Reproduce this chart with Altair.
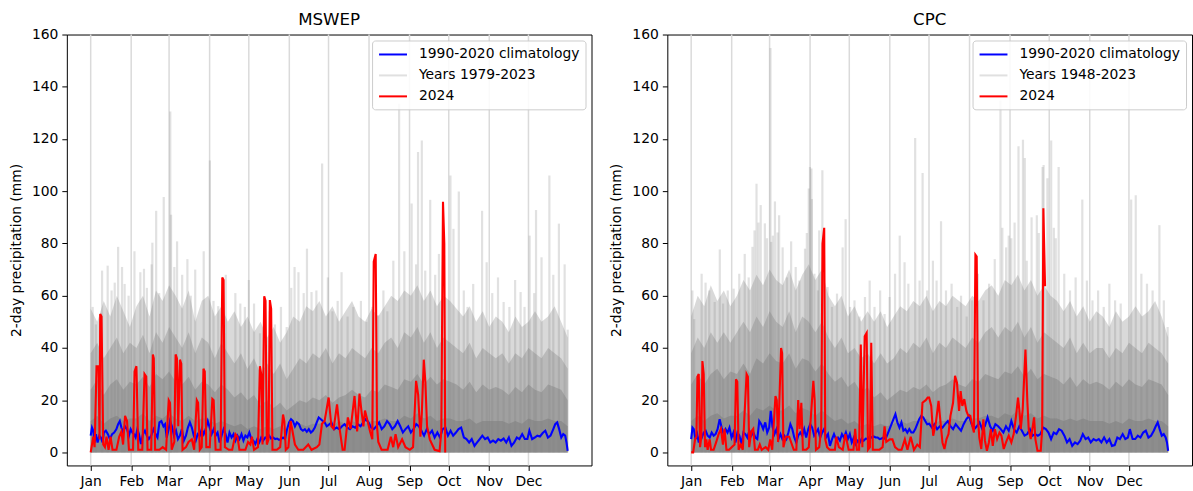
import altair as alt
import pandas as pd

MONTH_DAYS = [0, 31, 60, 91, 121, 152, 182, 213, 244, 274, 305, 335]
MONTH_LABELS = ["Jan", "Feb", "Mar", "Apr", "May", "Jun", "Jul", "Aug", "Sep", "Oct", "Nov", "Dec"]
Y_TICKS = [0, 20, 40, 60, 80, 100, 120, 140, 160]
CLIM_LABEL = "1990-2020 climatology"
ENV_DAYS = list(range(0, 366, 5))

# ---------------- MSWEP ----------------
mswep_upper = [55, 50, 58, 52, 60, 54, 48,
               56, 60, 52, 62, 58, 64, 60,
               55, 62, 50, 58, 60, 52, 56,
               50, 54, 48, 52, 46, 50, 44,
               48, 42, 46, 52, 50, 56, 54,
               58, 52, 56, 50, 54, 58, 52,
               50, 55, 52, 56, 60, 58, 62,
               60, 64, 58, 62, 56, 60, 58,
               55, 52, 56, 50, 54, 48, 52,
               50, 46, 52, 48, 50, 54, 50,
               52, 56, 50, 44]
mswep_mid = [38, 42, 36, 40, 44, 38, 42,
             40, 45, 38, 46, 42, 48, 44,
             40, 46, 38, 44, 42, 36, 42,
             38, 34, 38, 32, 36, 30, 34,
             30, 34, 28, 32, 36, 34, 38,
             36, 40, 34, 38, 36, 40, 38,
             36, 40, 38, 42, 44, 40, 46,
             44, 48, 42, 46, 40, 44, 42,
             40, 38, 42, 36, 40, 38, 36,
             38, 34, 38, 36, 40, 38, 36,
             40, 38, 36, 32]
mswep_core = [24, 28, 22, 26, 28, 24, 27,
              26, 29, 25, 30, 28, 31, 27,
              26, 29, 24, 27, 26, 23, 26,
              24, 21, 23, 20, 22, 18, 20,
              17, 19, 16, 18, 20, 19, 21,
              20, 22, 19, 21, 22, 24, 22,
              21, 24, 23, 26, 25, 24, 28,
              27, 30, 26, 29, 26, 28, 27,
              26, 24, 27, 23, 26, 24, 25,
              24, 22, 25, 23, 26, 24, 23,
              26, 25, 24, 20]
mswep_base = [12, 14, 11, 13, 14, 12, 13,
              13, 15, 12, 14, 13, 15, 13,
              12, 14, 12, 13, 13, 11, 12,
              11, 10, 11, 9, 10, 9, 10,
              9, 10, 9, 10, 11, 10, 11,
              11, 12, 10, 12, 11, 12, 11,
              11, 12, 12, 13, 12, 12, 14,
              13, 15, 13, 14, 12, 13, 13,
              12, 12, 13, 11, 12, 12, 12,
              12, 11, 12, 11, 13, 12, 12,
              13, 12, 12, 10]
mswep_spikes = [(1.5, 55.7), (4, 49), (8.7, 69.6), (13, 71.5), (16, 62), (18.4, 65), (21, 78.7), (24, 71),
                (26, 64.5), (29, 60), (33.5, 77), (38, 69), (40.8, 70.3), (43, 63), (46.6, 72), (47.2, 80.3),
                (50.1, 92.5), (52.4, 61), (55.9, 97.8), (60.9, 130.5), (61.5, 91), (64, 71), (66.1, 80.8),
                (70, 68), (74, 74), (76.6, 60), (80, 70), (86.5, 77), (91.2, 111.8), (94, 58), (97.6, 56),
                (100.5, 59), (103.4, 68), (110.7, 61), (114.5, 57), (118, 55.7), (121, 66), (125, 57),
                (129.6, 45.6), (133, 52), (137, 54), (141, 49), (145.6, 55.7), (150, 48), (153.5, 63),
                (156, 71), (159, 69), (163, 61), (165.5, 78), (169, 61.4), (172.7, 62), (177.1, 110.6),
                (181.5, 67), (185, 54), (189, 58), (192, 69), (196.6, 52), (201, 55.7), (206.8, 58), (211, 50),
                (215.6, 55.7), (220, 52.5), (224, 62), (227, 54), (231.6, 73.4), (236, 133.5), (240, 77),
                (245.6, 95.3), (249, 72), (250.5, 115), (253.4, 119.4), (256, 69.6), (259.8, 96.7),
                (263.6, 68), (266.5, 76), (275.3, 106), (277.6, 85.6), (281.7, 99.9), (285.5, 62),
                (288.4, 55.7), (292.7, 64.5), (299.5, 92.5), (303, 72.8), (307.3, 61), (311.7, 67),
                (316, 57.6), (320.4, 55.7), (324.8, 66), (329, 61.4), (332, 55.7), (335.9, 83), (339.4, 61),
                (340.8, 92.8), (345, 74.7), (351, 106), (354, 68), (358.3, 87.6), (362.7, 72), (365, 47)]
mswep_clim = [(0, 6.4), (1, 9.5), (2, 8.3), (3, 3.8), (4, 7), (5.3, 3.8), (6.6, 6.4), (7.8, 5.7), (9.1, 3.8),
              (10.1, 7.6), (11.6, 8.3), (13.2, 7), (14.7, 5.1), (16.4, 7), (18, 7.6), (19.7, 8.9), (21, 10.8),
              (22.3, 12), (23.5, 9.5), (24.8, 7.6), (26.3, 10), (27.8, 8.9), (29.3, 6.4), (30.6, 8.9),
              (31.9, 7.6), (33.1, 7), (34.4, 5.7), (35.7, 8.9), (36.9, 7), (38.5, 3.2), (40, 7), (41.5, 8.3),
              (43, 6.4), (44.5, 5.1), (46.3, 6.4), (48.1, 8.9), (49.6, 7), (51.1, 5.7), (52.6, 11.5),
              (54.1, 12), (55.7, 10), (56.9, 10.8), (58.2, 5.7), (59.7, 8.9), (60.7, 12), (62.2, 10),
              (63.7, 6.4), (65.3, 8.3), (66.8, 5.1), (68.3, 6.4), (69.8, 8.9), (71.3, 4.5), (72.9, 6.4),
              (74.4, 9.5), (75.9, 11.5), (77.4, 9.5), (78.9, 6.4), (80.4, 4.5), (81.9, 7), (83.5, 6.4),
              (85, 8.9), (86.5, 7), (88, 8.9), (89.6, 12), (91.1, 9.5), (92.6, 7), (94.1, 8.9), (95.6, 6.4),
              (97.1, 7.6), (98.7, 3.8), (100.2, 6.4), (101.7, 8.9), (103.2, 7), (104.7, 3.8), (106.2, 7.6),
              (107.8, 5.7), (109.3, 7), (110.8, 4.5), (112.3, 6.4), (113.8, 5.1), (115.4, 7), (116.9, 4.5),
              (118.4, 6.4), (119.9, 5.7), (121.4, 7.6), (122.9, 5.1), (124.5, 4.5), (126, 3.2), (127.5, 5.1),
              (129, 3.8), (130.5, 5.7), (132, 4.5), (133.6, 5.7), (135.1, 5.1), (136.6, 6.4), (138.1, 5.3),
              (139.6, 5.7), (141.2, 5.1), (142.7, 5.3), (144.2, 4.8), (145.7, 5.1), (147.2, 5.7),
              (148.7, 5.1), (150.3, 8.9), (151.8, 11.5), (153.3, 12.7), (154.8, 12), (156.3, 10),
              (157.8, 11.5), (159.4, 10.8), (160.9, 8.9), (162.4, 8.3), (163.9, 8.9), (165.4, 7.9),
              (166.9, 8.9), (168.5, 7.6), (170, 8.3), (171.5, 9.5), (173, 11.5), (174.5, 13.4), (176.1, 12.7),
              (177.6, 12), (179.1, 11.5), (180.6, 10), (182.1, 10.5), (184.2, 11.5), (186.2, 8.9),
              (188.2, 9.5), (190.3, 8.9), (192.3, 10), (194.3, 10.8), (196.4, 9.5), (198.4, 8.9), (200.4, 10),
              (202.4, 9.5), (204.5, 10.8), (206.5, 10), (208.5, 11.5), (210.5, 12.7), (212.6, 11.5),
              (214.6, 9.5), (216.6, 8.9), (218.6, 10), (220.7, 11.5), (222.7, 8.9), (224.7, 10), (226.8, 12),
              (228.8, 10.8), (230.8, 8.9), (232.8, 10), (234.9, 12), (236.9, 10), (238.9, 7.6), (240.9, 8.9),
              (243, 10), (245, 7.6), (247, 8.9), (249.1, 10.8), (251.1, 10), (253.1, 8.3), (255.1, 6.4),
              (257.2, 8.9), (259.2, 7), (261.2, 8.3), (263.2, 5.7), (265.3, 7.6), (267.3, 5.7), (269.3, 8.9),
              (271.4, 9.5), (273.4, 6.4), (275.4, 8.3), (277.4, 6.4), (279.5, 7.6), (281.5, 8.9), (283.5, 9.5),
              (285.6, 5.7), (287.6, 5.1), (289.6, 3.8), (291.6, 5.1), (293.7, 2.5), (295.7, 3.8), (297.7, 5.1),
              (299.7, 6.4), (301.8, 5.1), (303.8, 5.7), (305.8, 3.8), (307.9, 4.5), (309.9, 3.8), (311.9, 5.1),
              (313.9, 4.5), (316, 5.3), (318, 3.8), (320, 5.7), (322, 2.5), (324.1, 3.8), (326.1, 5.7),
              (328.1, 5.1), (330.2, 7), (332.2, 5.1), (334.2, 5.1), (335.7, 8.3), (337.8, 5.1), (339.8, 5.7),
              (341.8, 6.4), (343.8, 6.1), (345.9, 7.4), (347.9, 8.3), (349.9, 5.7), (351.9, 6.4), (354, 8.9),
              (355.5, 10.8), (357, 11.5), (358.5, 8.9), (360.1, 5.7), (361.6, 7), (363.1, 6.4), (364.1, 3.8),
              (365, 0.6)]
mswep_2024 = [(0, 0), (2, 6), (3, 2), (4.5, 33), (6, 33), (6.8, 5), (7.3, 53), (8.3, 52), (9.6, 3), (10.9, 2),
              (12.1, 6), (13.7, 1), (15.2, 6), (16.7, 1), (19.7, 1), (21.8, 6), (23.5, 8), (24.8, 3), (26.3, 14),
              (27.8, 12), (29.3, 1), (32.4, 1), (33.6, 31), (35, 33), (36.4, 1), (39.5, 1), (41.2, 30),
              (42.5, 29), (43.5, 1), (46.3, 1), (47.6, 37.5), (48.3, 36), (49.3, 1), (52.6, 1), (55.1, 2),
              (57.7, 1), (59.7, 20), (60.7, 19), (62, 1), (64, 4), (65, 37.5), (66, 36), (67, 10), (68.3, 35.5),
              (69.3, 34), (70.3, 1), (72.9, 2), (74.9, 4), (77.4, 5), (79.2, 1), (81.2, 20), (82.2, 19),
              (83.5, 1), (85, 2), (86.3, 32), (87.3, 31), (88.5, 2), (91.1, 2), (93.1, 20.5), (94.1, 20),
              (95.6, 1), (99.4, 1), (100.7, 67), (101.7, 66), (102.7, 2), (105.7, 1), (108.3, 1), (110.8, 7),
              (112.3, 6), (113.8, 1), (118.4, 1), (120.4, 4), (122.2, 3), (123.4, 6), (125, 1), (128, 2),
              (129.5, 33), (130.5, 30), (131.5, 3), (132.8, 59.8), (133.8, 58), (134.8, 3), (136.1, 5),
              (137.1, 58.3), (138.1, 55), (139.1, 1), (142.4, 1), (145, 2), (147.2, 14.5), (148.2, 12),
              (149.3, 1), (151.3, 2), (153, 12), (156.3, 3), (158.9, 1), (162.7, 1), (166.5, 3), (169, 1),
              (173, 2), (175, 3), (177, 11), (179, 12), (182.1, 21), (184.2, 10), (185.9, 9), (188.5, 18.4),
              (190.5, 9), (192.8, 1), (194.3, 1), (196.8, 13.4), (198.9, 9), (201.9, 21.6), (203.9, 8),
              (205.7, 22.5), (207.4, 15), (208.7, 10), (209.9, 16), (211.9, 12), (213.8, 8), (215.5, 5),
              (216.6, 73), (218.1, 76), (219.1, 10), (220.1, 4), (222.6, 1), (227.2, 1), (229.7, 6),
              (231.5, 2), (233.3, 7), (235.3, 2), (238.3, 5), (240.9, 2), (244.2, 1), (246.7, 2), (249, 27.4),
              (250.6, 22), (252.3, 6), (253.4, 15), (254.9, 35.5), (256.1, 27), (257.4, 10), (259.5, 5),
              (263.2, 1), (267, 0.5), (268.3, 8), (269.6, 96), (270.6, 80), (271.3, 0)]

# ---------------- CPC ----------------
cpc_upper = [52, 60, 56, 64, 58, 62, 56,
             60, 66, 62, 68, 64, 70, 66,
             64, 70, 62, 68, 72, 66, 70,
             60, 56, 60, 52, 56, 50, 54,
             50, 54, 48, 52, 56, 54, 58,
             56, 60, 54, 58, 56, 60, 58,
             56, 60, 58, 62, 64, 60, 66,
             64, 68, 62, 66, 60, 64, 60,
             58, 54, 58, 52, 56, 50, 54,
             52, 48, 54, 50, 52, 56, 52,
             54, 58, 52, 44]
cpc_mid = [38, 44, 40, 46, 42, 46, 42,
           46, 50, 46, 52, 48, 54, 50,
           48, 54, 46, 52, 50, 46, 50,
           44, 40, 44, 38, 40, 36, 38,
           34, 38, 34, 36, 40, 38, 42,
           40, 44, 38, 42, 40, 44, 42,
           40, 44, 42, 46, 48, 44, 48,
           46, 50, 44, 48, 42, 46, 44,
           42, 40, 44, 38, 42, 38, 40,
           40, 36, 40, 38, 42, 40, 38,
           42, 40, 38, 34]
cpc_core = [26, 30, 26, 30, 32, 28, 31,
            30, 34, 30, 36, 34, 38, 35,
            34, 38, 32, 36, 35, 31, 34,
            30, 27, 29, 25, 27, 23, 25,
            21, 23, 20, 22, 24, 23, 25,
            24, 26, 23, 25, 26, 28, 26,
            25, 28, 27, 30, 29, 28, 31,
            30, 33, 29, 32, 28, 30, 29,
            28, 26, 29, 25, 28, 26, 27,
            26, 24, 27, 25, 28, 26, 25,
            28, 27, 26, 22]
cpc_base = [12, 14, 12, 14, 15, 13, 14,
            14, 16, 14, 17, 16, 18, 16,
            16, 18, 15, 17, 16, 14, 16,
            14, 12, 13, 11, 12, 10, 11,
            10, 11, 10, 11, 12, 11, 12,
            12, 13, 11, 12, 12, 13, 12,
            12, 13, 13, 14, 14, 13, 15,
            14, 16, 14, 15, 13, 14, 13,
            13, 12, 13, 12, 13, 12, 12,
            12, 11, 12, 11, 13, 12, 12,
            13, 12, 12, 10]
cpc_spikes = [(0.9, 62), (2.3, 51), (8, 68.4), (11, 65), (13.8, 62), (18, 57.6), (21.9, 77.7), (24.4, 57),
              (28, 62), (32.5, 62.7), (36.8, 68.4), (41, 76), (44, 67), (46.9, 78.7), (48.5, 85), (50, 102.9),
              (51.5, 88), (53.2, 94.7), (56.4, 87.7), (58, 82), (60.7, 154.8), (61.2, 80.6), (62.5, 83),
              (64.1, 96.1), (66.1, 84.2), (67.3, 90.8), (70, 78.5), (73.3, 67), (76.5, 80.8), (80, 71),
              (82.8, 65.8), (87.1, 78), (88.5, 84), (90, 101), (90.9, 109.3), (92, 108.7), (92.4, 97),
              (94.3, 68.4), (97, 62), (98, 85), (100.4, 108), (104.4, 63.3), (107.8, 55.7), (111.6, 60.8),
              (115.9, 78.5), (118.2, 89.3), (121.6, 55.7), (125, 58.2), (128.8, 52), (133, 59.5),
              (136.6, 65.8), (140.3, 55.7), (144.6, 62), (148, 53), (151.8, 59.5), (156, 68.4), (159.6, 83),
              (163.3, 72.8), (166.2, 64.6), (171.4, 120.4), (174.8, 65.8), (177.1, 107), (180.6, 62),
              (185, 73.4), (187.8, 65.8), (191.2, 88.5), (195, 62), (199.3, 64.6), (203.6, 55.7), (206.5, 60),
              (210.8, 52), (215, 58.2), (219.4, 68.4), (223.7, 58.2), (228, 64.6), (232.3, 74),
              (236.7, 134.7), (238.1, 86), (241, 78.5), (243, 83), (245, 82), (247.5, 88), (250.5, 117.2),
              (253.9, 119.7), (255.3, 112.7), (256.8, 73.4), (260.5, 90), (264.5, 90.8), (266, 84),
              (268.9, 109.3), (269.7, 110), (272.6, 105), (275.5, 119.4), (277.5, 86), (279, 82),
              (281.2, 109.3), (285.5, 68.4), (289.9, 62), (294.2, 67), (299.3, 96.8), (302.8, 65.8),
              (307.1, 58.2), (311.4, 62), (315.7, 55.7), (320, 64.6), (324.4, 58.2), (328.7, 57),
              (336.7, 96.8), (340.2, 98.5), (344.5, 68.4), (348.8, 64.6), (353.1, 62), (358.3, 87),
              (361.7, 58.2), (364.6, 48)]
cpc_clim = [(0, 5.1), (1, 9.5), (2, 8.9), (3.3, 5.1), (4.6, 7), (5.8, 3.8), (7.1, 7), (8.1, 5.7), (9.6, 7.6),
            (11.1, 8.3), (12.6, 6.4), (14.2, 5.7), (15.7, 7.6), (17.2, 6.4), (18.7, 7), (20.2, 8.9),
            (21.8, 12.7), (23.3, 9.5), (24.8, 7), (26.3, 8.9), (27.8, 7.6), (29.3, 9.5), (30.9, 5.7),
            (32.4, 7.6), (33.9, 3.8), (35.4, 7.6), (36.9, 6.4), (38.5, 3.2), (40, 7.6), (41.5, 7), (43, 5.7),
            (44.5, 8.3), (46, 6.4), (47.6, 7.6), (49.1, 5.7), (50.6, 5.1), (52.1, 12), (53.6, 10.8),
            (55.1, 8.9), (56.7, 11.5), (58.2, 7.6), (59.7, 9.5), (60.9, 15.9), (62.2, 10), (63.7, 7),
            (65.3, 8.9), (66.8, 5.1), (68.3, 7), (69.8, 5.1), (71.3, 6.4), (72.9, 5.1), (74.4, 7.6),
            (75.9, 10.8), (77.4, 8.9), (78.9, 5.7), (80.4, 3.8), (81.9, 6.4), (83.5, 7.6), (85, 6.4),
            (86.5, 8.9), (88, 5.7), (89.6, 8.9), (91.1, 10.8), (92.6, 9.5), (94.1, 6.4), (95.6, 7.6),
            (97.1, 8.9), (98.7, 5.7), (100.2, 7.6), (101.7, 8.9), (103.2, 5.7), (104.7, 7), (106.2, 2.5),
            (107.8, 5.1), (109.3, 7), (110.8, 5.1), (112.3, 5.7), (113.8, 4.5), (115.4, 7), (116.9, 5.7),
            (118.4, 7.6), (119.9, 5.1), (121.4, 7), (122.9, 3.8), (124.5, 5.7), (126, 3.2), (127.5, 4.5),
            (129, 3.8), (130.5, 5.3), (132, 4.5), (133.6, 5.3), (135.1, 5.1), (136.6, 6.1), (138.1, 5.7),
            (139.6, 6.1), (141.2, 5.7), (142.7, 5.7), (144.2, 5.1), (145.7, 5.3), (147.2, 5.7), (148.7, 5.1),
            (150.3, 7), (151.8, 8.9), (153.3, 10.8), (154.8, 12.7), (156.3, 14.6), (157.8, 11.5),
            (159.4, 9.5), (160.9, 11.5), (162.4, 8.3), (163.9, 8.9), (165.4, 7.6), (166.9, 8.9), (168.5, 7.6),
            (170, 7.6), (171.5, 8.9), (173, 10.8), (174.5, 12.7), (176.1, 14), (177.6, 13.4), (179.1, 12),
            (180.6, 10.8), (182.1, 11), (184.2, 9.5), (186.2, 10.8), (188.2, 8.9), (190.3, 10), (192.3, 9.5),
            (194.3, 10.8), (196.4, 12), (198.4, 10), (200.4, 8.9), (202.4, 10.8), (204.5, 9.5), (206.5, 8.3),
            (208.5, 10.8), (210.5, 12.7), (212.6, 14), (214.6, 10.8), (216.6, 8.9), (218.6, 10),
            (220.7, 11.5), (222.7, 8.9), (224.7, 10), (226.8, 13.4), (228.8, 10), (230.8, 8.3),
            (232.8, 10.8), (234.9, 10), (236.9, 8.9), (238.9, 7.6), (240.9, 10), (243, 8.3), (245, 12),
            (247, 8.9), (249.1, 7.6), (251.1, 10), (253.1, 8.3), (255.1, 6.4), (257.2, 7), (259.2, 8.9),
            (261.2, 6.4), (263.2, 7), (265.3, 6.4), (267.3, 7), (269.3, 9.5), (271.4, 8.9), (273.4, 7.6),
            (275.4, 5.1), (277.4, 7.6), (279.5, 7), (281.5, 8.9), (283.5, 8.3), (285.6, 6.4), (287.6, 3.8),
            (289.6, 5.1), (291.6, 2.5), (293.7, 3.8), (295.7, 3.2), (297.7, 4.5), (299.7, 7), (301.8, 5.1),
            (303.8, 5.7), (305.8, 3.8), (307.9, 5.1), (309.9, 4.5), (311.9, 5.1), (313.9, 3.8), (316, 5.7),
            (318, 3.8), (320, 5.1), (322, 2.5), (324.1, 2.8), (326.1, 5.7), (328.1, 5.1), (330.2, 7),
            (332.2, 5.1), (334.2, 5.7), (335.7, 8.9), (337.8, 5.1), (339.8, 5.1), (341.8, 6.4), (343.8, 5.7),
            (345.9, 7.6), (347.9, 8.3), (349.9, 5.7), (351.9, 6.4), (354, 8.3), (355.5, 10), (357, 11.5),
            (358.5, 8.9), (360.1, 6.4), (361.6, 7), (363.1, 5.7), (364.1, 3.8), (365, 0.6)]
cpc_2024 = [(0, 0), (1.5, 0), (3, 5), (4, 6), (4.8, 29), (5.8, 30), (6.8, 2), (7.8, 6), (8.6, 35), (9.6, 30),
            (10.6, 2), (11.6, 5), (12.6, 1), (14.2, 5), (15.2, 1), (17.2, 1), (19.2, 4), (21, 7), (22.8, 9),
            (24.3, 3), (25.5, 9), (27, 1), (29, 1), (31, 2), (33.2, 3), (34.3, 28), (35.3, 27), (36.3, 1),
            (38, 3), (39.5, 1), (42.4, 30), (43.4, 29), (44.4, 2), (46, 8), (47.5, 9), (48.8, 1), (51, 1),
            (52.5, 3), (54, 1), (57, 2), (59, 1), (60.5, 5), (62, 1), (64.5, 21.6), (65.5, 20), (66.5, 4),
            (68.8, 40), (69.6, 38), (70.6, 2), (72.5, 6), (75, 6), (78.5, 1), (80.5, 1), (81.9, 20), (83, 9),
            (84.3, 19), (85.5, 1), (88, 1), (90, 2), (93.5, 27.4), (94.5, 20), (95.5, 1), (98, 2), (99.5, 9),
            (100.5, 80), (101.8, 86), (102.6, 5), (104, 2), (106, 1), (110, 1), (111, 6), (113, 2), (116, 1),
            (118, 7), (120.5, 1), (124.2, 1), (125.5, 9), (126.8, 1), (128.5, 1), (129.8, 41.3), (131, 2),
            (132.8, 44.5), (134.3, 45.8), (135.3, 1), (136.8, 2), (137.8, 42), (139, 1), (144, 1),
            (146.5, 2), (148, 10), (149.3, 4), (152, 5), (154, 5), (156, 2), (158.5, 1), (161, 1),
            (163.5, 5), (165.5, 1), (168, 6), (170.5, 1), (173, 3), (175, 2), (177, 19), (179.5, 20),
            (181, 21), (182.1, 21), (183.7, 17.8), (185.2, 6.4), (187.3, 11.5), (189.3, 19.7), (190.8, 11.5),
            (192.3, 3.8), (193.8, 1.3), (195.4, 5.1), (196.9, 7), (198.4, 14), (200.4, 19), (201.9, 29.3),
            (203.4, 26.7), (205, 15.9), (206.2, 23.5), (207.5, 17.8), (209, 20.4), (210.6, 15.9),
            (212.1, 14), (213.6, 14), (215.2, 10), (216.4, 7.6), (217.5, 75.7), (218.5, 75), (219.5, 12.7),
            (220.5, 5.7), (222, 1.3), (223.6, 12.7), (224.8, 4.5), (226.3, 0.6), (227.8, 3.8), (229.3, 8.9),
            (230.8, 2.5), (232.4, 8.9), (234.1, 5.1), (235.9, 7.6), (237.4, 6.4), (239.2, 1.3), (240.9, 3.8),
            (243, 6.4), (245, 3.8), (246.8, 7), (248.6, 14), (250.1, 21), (251.2, 15.9), (252.2, 8.9),
            (253.7, 16.5), (255.8, 39.4), (257.3, 19), (258.3, 8.9), (259.8, 5.1), (261.4, 10), (262.4, 13.4),
            (263.4, 5.1), (265, 0.6), (267.5, 0.6), (268.6, 8.9), (269.5, 93.5), (270.8, 63.6)]

FONT = "DejaVu Sans"
LABEL_EXPR = ("[" + ",".join("'%s'" % m for m in MONTH_LABELS) + "][indexof(["
              + ",".join(str(d) for d in MONTH_DAYS) + "], datum.value)]")


def panel(title, years_label, upper, mid, core, base, spikes, clim, y2024):
    env = pd.DataFrame({"day": ENV_DAYS, "upper": upper, "mid": mid, "core": core, "base": base})
    sp = pd.DataFrame(spikes, columns=["day", "value"])
    cl = pd.DataFrame(clim, columns=["day", "value"])
    cl["series"] = CLIM_LABEL
    rd = pd.DataFrame(y2024, columns=["day", "value"])
    rd["series"] = "2024"
    grid = pd.DataFrame({"day": MONTH_DAYS})

    xs = alt.Scale(domain=[-18.25, 383.25], nice=False, zero=False)
    ys = alt.Scale(domain=[-5, 160], nice=False, zero=False)
    xax = alt.Axis(values=MONTH_DAYS, labelExpr=LABEL_EXPR, grid=False, domain=False,
                   tickColor="black", tickSize=5, tickWidth=1, labelFont=FONT, labelFontSize=13.9,
                   labelColor="black", labelPadding=4, labelFlush=False, labelOverlap=False)
    yax = alt.Axis(values=Y_TICKS, grid=False, domain=False, tickColor="black", tickSize=5,
                   tickWidth=1, labelFont=FONT, labelFontSize=13.9, labelColor="black", labelPadding=4,
                   titleFont=FONT, titleFontSize=13.9, titleFontWeight="normal", titleColor="black",
                   titlePadding=8)
    YT = "2-day precipitation (mm)"
    X = alt.X("day:Q", scale=xs, axis=xax, title=None)

    def Y(field):
        return alt.Y(field + ":Q", scale=ys, axis=yax, title=YT)

    layers = [alt.Chart(grid).mark_rule(color="#dadada", strokeWidth=1.5).encode(x=X)]
    for f, op in [("upper", 0.3), ("mid", 0.35), ("core", 0.45), ("base", 0.6)]:
        layers.append(alt.Chart(env).mark_area(color="#808080", opacity=op).encode(
            x=X, y=Y(f), y2=alt.datum(0)))
    layers.append(alt.Chart(sp).mark_rule(color="#808080", opacity=0.24, strokeWidth=2.2).encode(
        x=X, y=Y("value"), y2=alt.datum(0)))

    color = alt.Color("series:N", title=None,
                      scale=alt.Scale(domain=[CLIM_LABEL, years_label, "2024"],
                                      range=["#0000ff", "#e0e0e0", "#ff0000"]),
                      legend=alt.Legend(orient="top-right", offset=6, fillColor="rgba(255,255,255,0.85)",
                                        strokeColor="#cccccc", cornerRadius=3, padding=6,
                                        symbolType="M-1,0H3", symbolSize=196, symbolStrokeWidth=2,
                                        labelFont=FONT, labelFontSize=13.9, labelColor="black",
                                        labelOffset=25, rowPadding=6, labelLimit=400))
    layers.append(alt.Chart(cl).mark_line(strokeWidth=2.1).encode(x=X, y=Y("value"), color=color))
    layers.append(alt.Chart(rd).mark_line(strokeWidth=2.1).encode(x=X, y=Y("value"), color=color))

    return alt.layer(*layers).properties(
        width=526, height=432,
        title=alt.TitleParams(text=title, font=FONT, fontSize=16.7, fontWeight="normal",
                              color="black", offset=-1, frame="group", anchor="middle"))


left = panel("MSWEP", "Years 1979-2023", mswep_upper, mswep_mid, mswep_core, mswep_base,
             mswep_spikes, mswep_clim, mswep_2024)
right = panel("CPC", "Years 1948-2023", cpc_upper, cpc_mid, cpc_core, cpc_base,
              cpc_spikes, cpc_clim, cpc_2024)

chart = alt.hconcat(left, right, spacing=16).resolve_scale(color="independent").properties(
    padding={"left": 8, "top": 10, "right": 0, "bottom": 0}, background="white"
).configure_view(stroke="black", strokeWidth=1)

chart.save("out.html", embed_options={"renderer": "svg", "actions": False})
